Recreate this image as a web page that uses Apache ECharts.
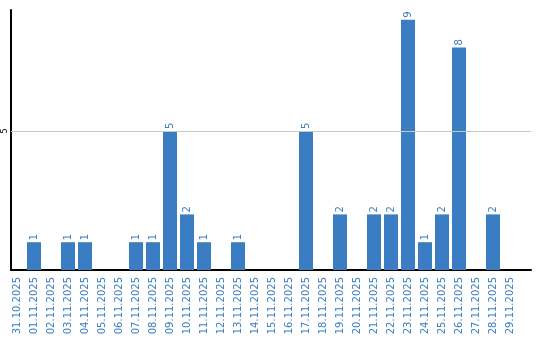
<!DOCTYPE html>
<html><head><meta charset="utf-8">
<script src="https://cdn.jsdelivr.net/npm/echarts@6/dist/echarts.min.js"></script>
<style>html,body{margin:0;padding:0;background:#fff}#c{width:540px;height:340px}</style>
</head><body><div id="c"></div>
<script>
var categories = ['31.10.2025','01.11.2025','02.11.2025','03.11.2025','04.11.2025','05.11.2025','06.11.2025','07.11.2025','08.11.2025','09.11.2025','10.11.2025','11.11.2025','12.11.2025','13.11.2025','14.11.2025','15.11.2025','16.11.2025','17.11.2025','18.11.2025','19.11.2025','20.11.2025','21.11.2025','22.11.2025','23.11.2025','24.11.2025','25.11.2025','26.11.2025','27.11.2025','28.11.2025','29.11.2025'];
var values = [0,1,0,1,1,0,0,1,1,5,2,1,0,1,0,0,0,5,0,2,0,2,2,9,1,2,8,0,2,0];
var yTicks = [0,5];

var blue = '#3a7dc2';
var yMax = 9.35;
var chart = echarts.init(document.getElementById('c'), null, {renderer:'canvas'});
chart.setOption({
  animation:false,
  grid:[
    {left:8.5, right:21.5, top:10, bottom:70},
    {left:11, right:9, top:10, bottom:70}
  ],
  xAxis:[
    {type:'category', gridIndex:0, data:categories, boundaryGap:true,
     axisLine:{show:false}, axisTick:{show:false},
     axisLabel:{interval:0, rotate:90, color:blue, fontFamily:'DejaVu Sans', fontSize:10, margin:7}},
    {type:'value', gridIndex:1, min:0, max:1, show:true,
     axisLine:{show:true, onZero:false, lineStyle:{color:'#000', width:2}},
     axisTick:{show:false}, axisLabel:{show:false}, splitLine:{show:false}}
  ],
  yAxis:[
    {type:'value', gridIndex:0, min:0, max:yMax, show:false, splitLine:{show:false}},
    {type:'value', gridIndex:1, min:0, max:yMax, interval:5,
     axisLine:{show:true, lineStyle:{color:'#000', width:2}},
     axisTick:{show:false},
     axisLabel:{showMinLabel:false, showMaxLabel:false, rotate:90, fontSize:8, color:'#000', fontFamily:'DejaVu Sans', margin:2,
       formatter:function(v){return yTicks.indexOf(v)>=0 && v!==0 ? String(v) : '';}},
     splitLine:{show:false}}
  ],
  series:[{
    type:'line', xAxisIndex:1, yAxisIndex:1, data:[], silent:true,
    markLine:{silent:true, symbol:'none', label:{show:false},
      lineStyle:{color:'#c8c8c8', width:1, type:'solid'},
      data:yTicks.filter(function(t){return t>0;}).map(function(t){return {yAxis:t};})}
  },{
    type:'bar', xAxisIndex:0, yAxisIndex:0, data:values.map(function(v){return v===0?null:v;}),
    barWidth:14, itemStyle:{color:blue}, z:3,
    label:{show:true, position:'top', rotate:90, align:'left', verticalAlign:'middle', distance:2,
      color:blue, fontFamily:'DejaVu Sans', fontSize:10}
  }]
});
</script></body></html>
